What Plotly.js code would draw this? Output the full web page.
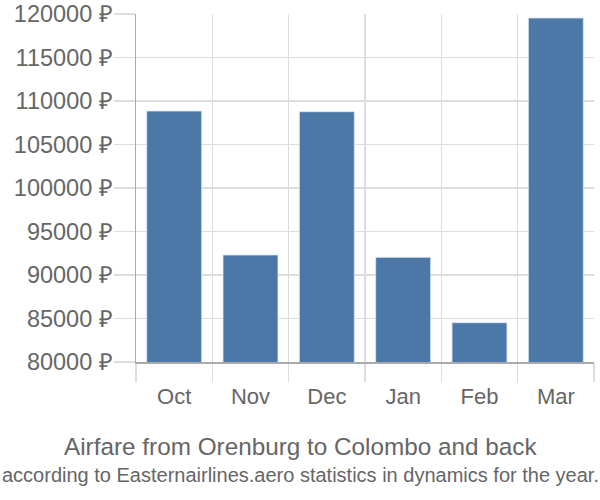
<!DOCTYPE html>
<html>
<head>
<meta charset="utf-8">
<script src="https://cdn.plot.ly/plotly-3.0.1.min.js"></script>
<style>html,body{margin:0;padding:0;background:#fff;}#chart{width:600px;height:500px;}</style>
</head>
<body>
<div id="chart"></div>
<script>
var months = ["Oct", "Nov", "Dec", "Jan", "Feb", "Mar"];
var prices = [108850, 92300, 108770, 92030, 84520, 119540];
var yTicks = [80000, 85000, 90000, 95000, 100000, 105000, 110000, 115000, 120000];
var titleLine1 = "Airfare from Orenburg to Colombo and back";
var titleLine2 = "according to Easternairlines.aero statistics in dynamics for the year.";

var font = "Liberation Sans, Arial, sans-serif";
var textColor = "#666666";
var gridColor = "#dddddd";
var axisColor = "#aaaaaa";

var trace = {
  type: "bar",
  x: months,
  y: prices,
  width: 0.72,
  marker: {color: "#4c78a8", line: {color: "rgba(220,230,245,0.8)", width: 1}},
  hoverinfo: "none"
};

var layout = {
  width: 600, height: 500,
  margin: {l: 136, r: 6, t: 14, b: 138},
  paper_bgcolor: "#ffffff",
  plot_bgcolor: "#ffffff",
  showlegend: false,
  font: {family: font, color: textColor, size: 20},
  xaxis: {
    type: "category",
    tickson: "boundaries",
    ticks: "outside",
    ticklen: 18,
    tickcolor: gridColor,
    tickwidth: 1.5,
    ticklabelstandoff: 14,
    showgrid: true,
    gridcolor: gridColor,
    gridwidth: 1.5,
    showline: true,
    linecolor: axisColor,
    linewidth: 1.5,
    tickfont: {size: 22, color: textColor},
    fixedrange: true
  },
  yaxis: {
    range: [80000, 120000],
    tickmode: "array",
    tickvals: yTicks,
    ticktext: yTicks.map(function(v){ return v + " ₽"; }),
    ticks: "outside",
    ticklen: 21,
    tickcolor: gridColor,
    tickwidth: 1.5,
    ticklabelstandoff: -4,
    showgrid: true,
    gridcolor: gridColor,
    gridwidth: 1.5,
    showline: true,
    linecolor: axisColor,
    linewidth: 1.5,
    zeroline: false,
    tickfont: {size: 23.5, color: textColor},
    fixedrange: true
  },
  annotations: [
    {text: titleLine1, xref: "paper", yref: "paper", showarrow: false, font: {size: 24.3, color: textColor}},
    {text: titleLine2, xref: "paper", yref: "paper", showarrow: false, font: {size: 20, color: textColor}}
  ]
};

// convert pixel centers (from top of page) to paper coordinates
var plotTop = 14, plotH = 500 - 14 - 138;
function paperY(py){ return (plotTop + plotH - py) / plotH; }
var plotL = 136, plotW = 600 - 136 - 6;
function paperX(px){ return (px - plotL) / plotW; }
layout.annotations[0].y = paperY(446); layout.annotations[0].yanchor = "middle";
layout.annotations[0].x = paperX(301); layout.annotations[0].xanchor = "center";
layout.annotations[1].y = paperY(475); layout.annotations[1].yanchor = "middle";
layout.annotations[1].x = paperX(300); layout.annotations[1].xanchor = "center";

Plotly.newPlot("chart", [trace], layout, {displayModeBar: false, staticPlot: true});
</script>
</body>
</html>
